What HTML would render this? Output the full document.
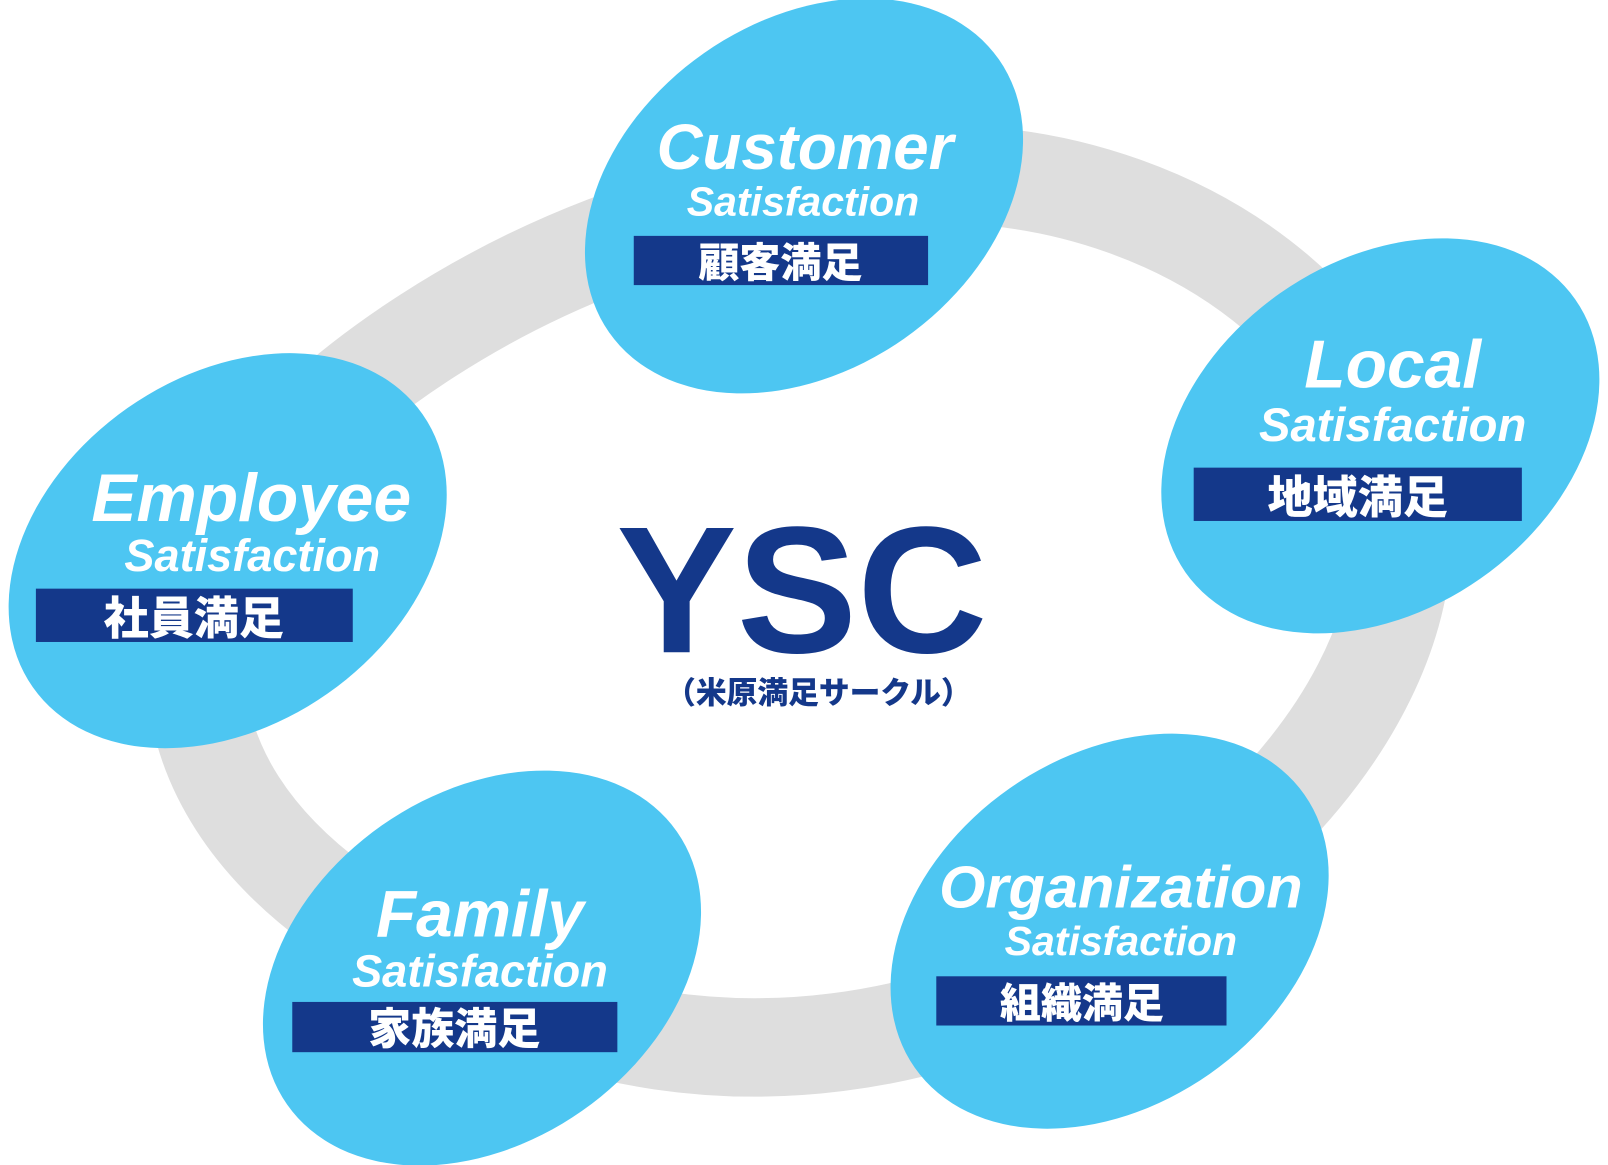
<!DOCTYPE html>
<html><head><meta charset="utf-8"><style>
html,body{margin:0;padding:0;background:#fff;width:1608px;height:1165px;overflow:hidden;}
svg{display:block}
.en{font-family:"Liberation Sans",sans-serif;font-weight:bold;font-style:italic;fill:#fff;}
.jp{font-family:"Liberation Sans","Noto Sans CJK JP",sans-serif;font-weight:900;fill:#fff;}
</style></head><body>
<svg width="1608" height="1165" viewBox="0 0 1568 1136" xmlns="http://www.w3.org/2000/svg">
<g fill="none" stroke="#dedede" stroke-width="96">
<path d="M784,191 C960,130 1250,200 1350,425 C1410,570 1320,770 1082,915 C960,1010 700,1075 470,960 C250,870 140,720 212,537 C260,410 520,220 784,191 Z"/>
</g>
<g fill="#4dc6f2">
<ellipse cx="784" cy="191" rx="232" ry="170" transform="rotate(-35 784 191)"/>
<ellipse cx="1346" cy="425" rx="232" ry="170" transform="rotate(-35 1346 425)"/>
<ellipse cx="222" cy="537" rx="232" ry="170" transform="rotate(-35 222 537)"/>
<ellipse cx="470" cy="944" rx="232" ry="170" transform="rotate(-35 470 944)"/>
<ellipse cx="1082" cy="908" rx="232" ry="170" transform="rotate(-35 1082 908)"/>
</g>
<g fill="#14388a">
<rect x="618" y="230" width="287" height="48"/>
<rect x="1164" y="456" width="320" height="52"/>
<rect x="35" y="574" width="309" height="52"/>
<rect x="285" y="977" width="317" height="49"/>
<rect x="913" y="952" width="283" height="48"/>
</g>
<text class="en" x="785" y="165" font-size="62" text-anchor="middle">Customer</text>
<text class="en" x="783" y="210" font-size="40" text-anchor="middle">Satisfaction</text>
<text class="jp" x="761" y="270" font-size="40" text-anchor="middle">顧客満足</text>
<text class="en" x="1358" y="378" font-size="66" text-anchor="middle">Local</text>
<text class="en" x="1358" y="430" font-size="46" text-anchor="middle">Satisfaction</text>
<text class="jp" x="1324" y="500" font-size="44" text-anchor="middle">地域満足</text>
<text class="en" x="245" y="508" font-size="66" text-anchor="middle">Employee</text>
<text class="en" x="246" y="557" font-size="44" text-anchor="middle">Satisfaction</text>
<text class="jp" x="189" y="618" font-size="44" text-anchor="middle">社員満足</text>
<text class="en" x="468" y="913" font-size="64" text-anchor="middle">Family</text>
<text class="en" x="468" y="962" font-size="44" text-anchor="middle">Satisfaction</text>
<text class="jp" x="443" y="1018" font-size="42" text-anchor="middle">家族満足</text>
<text class="en" x="1093" y="885" font-size="58" text-anchor="middle">Organization</text>
<text class="en" x="1093" y="931" font-size="40" text-anchor="middle">Satisfaction</text>
<text class="jp" x="1055" y="992" font-size="40" text-anchor="middle">組織満足</text>
<text x="782" y="636" font-family="Liberation Sans,sans-serif" font-weight="bold" font-size="176" fill="#14388a" text-anchor="middle">YSC</text>
<text x="798" y="686" font-family="Liberation Sans,'Noto Sans CJK JP',sans-serif" font-weight="900" font-size="30" fill="#14388a" text-anchor="middle">（米原満足サークル）</text>
</svg>
</body></html>
